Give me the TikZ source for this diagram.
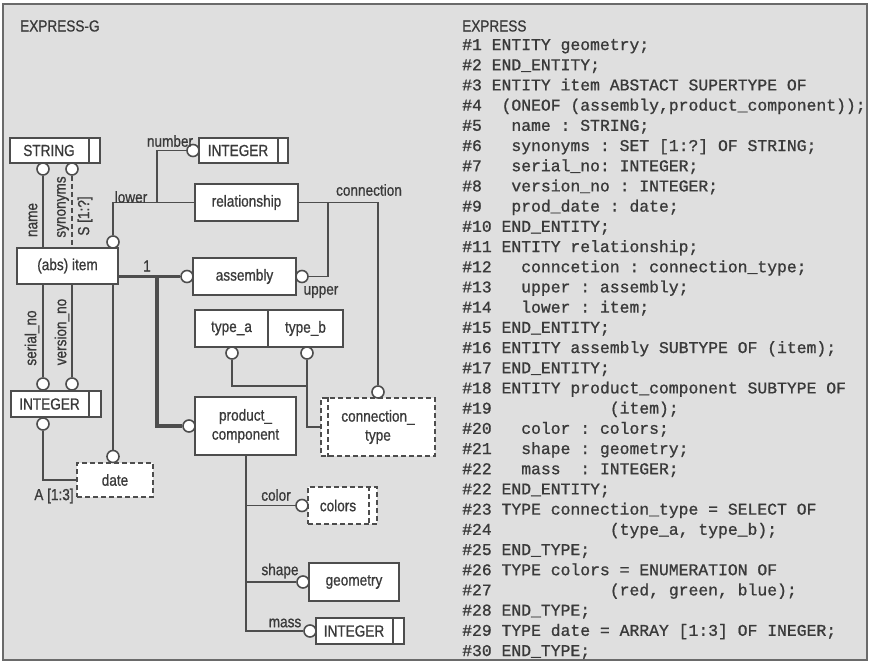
\documentclass[tikz,border=0pt]{standalone}
\usepackage{fontspec}
\newfontfamily\labfont[FakeStretch=0.85,FakeBold=0.8]{Liberation Sans}
\newfontfamily\codefont[FakeBold=1.0]{Liberation Mono}
\definecolor{bg}{HTML}{DFDFDF}
\definecolor{lc}{HTML}{4D4D4D}
\definecolor{tc}{HTML}{3A3A3A}
\definecolor{bordc}{HTML}{6A6A6A}
\newcommand\lab{\labfont\fontsize{16}{19}\selectfont}
\newcommand\cl[2]{\node[codeline] (c#1) at (462,{50+(#1-1)*20.2}) {#2};}
\tikzset{
 ent/.style={draw=lc, fill=white, line width=1.6pt, inner sep=0pt, font=\lab, text=tc},
 dent/.style={ent, dash pattern=on 5pt off 3pt},
 circ/.style={circle, draw=lc, fill=white, line width=1.6pt, minimum size=12pt, inner sep=0pt},
 ln/.style={draw=lc, line width=1.6pt},
 thk/.style={draw=lc, line width=3.2pt},
 lbl/.style={font=\lab, text=tc, inner sep=0pt},
 codeline/.style={anchor=base west, inner sep=0pt, text=tc, font=\codefont\fontsize{16.4}{18}\selectfont},
}
\begin{document}
\begin{tikzpicture}[x=1pt,y=-1pt]
\useasboundingbox (0,0) rectangle (870,662);
\draw[line width=2pt, draw=bordc, fill=bg] (3,4) rectangle (867,660);

% headers
\node[lbl, anchor=base west] (hg) at (20,31.5) {EXPRESS-G};
\node[lbl, anchor=base west] (hx) at (462,31.5) {EXPRESS};

% entity boxes
\node[ent, minimum width=90pt, minimum height=25pt] (string) at (55,150.5) {STRING\hspace*{12pt}};
\draw[ln] ([xshift=-12pt]string.north east) -- ([xshift=-12pt]string.south east);
\node[ent, minimum width=101pt, minimum height=36pt] (item) at (67.5,266) {(abs) item};
\node[ent, minimum width=90pt, minimum height=26pt] (int1) at (56,404) {INTEGER\hspace*{13pt}};
\draw[ln] ([xshift=-13pt]int1.north east) -- ([xshift=-13pt]int1.south east);
\node[dent, minimum width=76pt, minimum height=34pt] (date) at (115,480) {date};
\node[ent, minimum width=103pt, minimum height=37pt] (rel) at (246.5,202.5) {relationship};
\node[ent, minimum width=89pt, minimum height=25pt] (int2) at (243.5,150.5) {INTEGER\hspace*{11pt}};
\draw[ln] ([xshift=-11pt]int2.north east) -- ([xshift=-11pt]int2.south east);
\node[ent, minimum width=103pt, minimum height=37pt] (asm) at (244.5,276.5) {assembly};
\node[ent, minimum width=73pt, minimum height=37pt] (ta) at (231.5,328.5) {type\_a};
\node[ent, minimum width=75pt, minimum height=37pt] (tb) at (305.5,328.5) {type\_b};
\node[dent, minimum width=114pt, minimum height=58pt, align=center] (ct) at (378,427) {connection\_\\type};
\draw[ln, dash pattern=on 5pt off 3pt] ([xshift=8pt]ct.north west) -- ([xshift=8pt]ct.south west);
\node[ent, minimum width=101pt, minimum height=58pt, align=center] (pc) at (245.5,426) {product\_\\component};
\node[dent, minimum width=69pt, minimum height=37pt] (colors) at (342.5,505.5) {colors\hspace*{9pt}};
\draw[ln, dash pattern=on 5pt off 3pt] ([xshift=-9pt]colors.north east) -- ([xshift=-9pt]colors.south east);
\node[ent, minimum width=90pt, minimum height=38pt] (geo) at (354,582) {geometry};
\node[ent, minimum width=88pt, minimum height=26pt] (int3) at (360,631) {INTEGER\hspace*{12pt}};
\draw[ln] ([xshift=-12pt]int3.north east) -- ([xshift=-12pt]int3.south east);

% circles
\node[circ] (namec) at (43,169) {};
\node[circ] (sync) at (72,169) {};
\node[circ] (lowc) at (113,242) {};
\node[circ] (srlc) at (43,384) {};
\node[circ] (verc) at (72,384) {};
\node[circ] (int1lc) at (43,424) {};
\node[circ] (datec) at (113,456.5) {};
\node[circ] (numc) at (193,150.5) {};
\node[circ] (asmlc) at (187,276.5) {};
\node[circ] (asmrc) at (302,276.5) {};
\node[circ] (tac) at (232,353) {};
\node[circ] (tbc) at (307,353) {};
\node[circ] (ctc) at (378,392) {};
\node[circ] (pcc) at (189,426) {};
\node[circ] (colc) at (302,505.5) {};
\node[circ] (geoc) at (303,582) {};
\node[circ] (int3c) at (310,631) {};

% connectors
\draw[ln] (namec.south) -- (namec.south |- item.north);
\draw[ln, dash pattern=on 5pt off 3pt] (sync.south) -- (sync.south |- item.north);
\draw[ln] (item.south -| srlc) -- (srlc.north);
\draw[ln] (item.south -| verc) -- (verc.north);
\draw[ln] (lowc.north) |- (rel.west);
\coordinate (nb) at (157,202.5);
\draw[ln] (nb) |- (numc.west);
\draw[ln] (rel.east) -| (ctc.north);
\coordinate (ub) at (328,202.5);
\draw[ln] (ub) |- (asmrc.east);
\draw[thk] (item.east |- asmlc) -- (asmlc.west);
\coordinate (sb) at (157,276.5);
\draw[thk] (sb) |- (pcc.west);
\draw[ln] (item.south -| datec) -- (datec.north);
\draw[ln] (date.west) -| (int1lc.south);
\coordinate (tj) at (307,386);
\draw[ln] (tac.south) |- (tj);
\draw[ln] (tbc.south) |- (ct.west);
\coordinate (pb) at (246,631);
\draw[ln] (pc.south -| pb) -- (pb) -- (int3c.west);
\draw[ln] (pb |- colc) -- (colc.west);
\draw[ln] (pb |- geoc) -- (geoc.west);

% labels
\node[lbl, rotate=90] (lname) at (33,220) {name};
\node[lbl, rotate=90] (lsyn) at (63,207) {synonyms};
\node[lbl, rotate=90] (lset) at (85,216) {S [1:?]};
\node[lbl, rotate=90] (lser) at (32,338) {serial\_no};
\node[lbl, rotate=90] (lver) at (62,332) {version\_no};
\node[lbl] (llow) at (131,197) {lower};
\node[lbl] (lnum) at (170,141) {number};
\node[lbl] (lcon) at (369,190) {connection};
\node[lbl] (lup) at (321,292) {upper};
\node[lbl] (lone) at (147,266) {1};
\node[lbl] (lcol) at (276,495) {color};
\node[lbl] (lsha) at (280,571) {shape};
\node[lbl] (lmas) at (285,623) {mass};
\node[lbl] (larr) at (54,496) {A [1:3]};

% code
\cl{1}{\#1~ENTITY~geometry;}
\cl{2}{\#2~END\_ENTITY;}
\cl{3}{\#3~ENTITY~item~ABSTACT~SUPERTYPE~OF}
\cl{4}{\#4~~(ONEOF~(assembly,product\_component));}
\cl{5}{\#5~~~name~:~STRING;}
\cl{6}{\#6~~~synonyms~:~SET~[1:?]~OF~STRING;}
\cl{7}{\#7~~~serial\_no:~INTEGER;}
\cl{8}{\#8~~~version\_no~:~INTEGER;}
\cl{9}{\#9~~~prod\_date~:~date;}
\cl{10}{\#10~END\_ENTITY;}
\cl{11}{\#11~ENTITY~relationship;}
\cl{12}{\#12~~~conncetion~:~connection\_type;}
\cl{13}{\#13~~~upper~:~assembly;}
\cl{14}{\#14~~~lower~:~item;}
\cl{15}{\#15~END\_ENTITY;}
\cl{16}{\#16~ENTITY~assembly~SUBTYPE~OF~(item);}
\cl{17}{\#17~END\_ENTITY;}
\cl{18}{\#18~ENTITY~product\_component~SUBTYPE~OF}
\cl{19}{\#19~~~~~~~~~~~~(item);}
\cl{20}{\#20~~~color~:~colors;}
\cl{21}{\#21~~~shape~:~geometry;}
\cl{22}{\#22~~~mass~~:~INTEGER;}
\cl{23}{\#22~END\_ENTITY;}
\cl{24}{\#23~TYPE~connection\_type~=~SELECT~OF}
\cl{25}{\#24~~~~~~~~~~~~(type\_a,~type\_b);}
\cl{26}{\#25~END\_TYPE;}
\cl{27}{\#26~TYPE~colors~=~ENUMERATION~OF}
\cl{28}{\#27~~~~~~~~~~~~(red,~green,~blue);}
\cl{29}{\#28~END\_TYPE;}
\cl{30}{\#29~TYPE~date~=~ARRAY~[1:3]~OF~INEGER;}
\cl{31}{\#30~END\_TYPE;}
\end{tikzpicture}
\end{document}
